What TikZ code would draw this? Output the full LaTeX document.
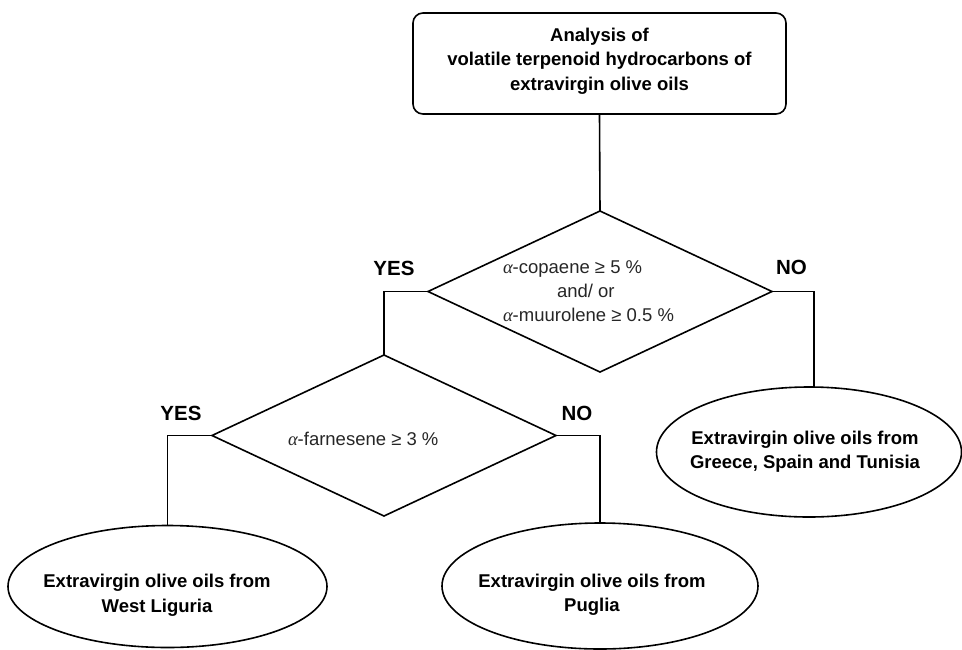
\documentclass[tikz,border=0pt]{standalone}
\usepackage{fontspec}
\setmainfont{Liberation Sans}
\newfontfamily\tmsfont{Liberation Serif}
\usetikzlibrary{shapes.geometric}
\newcommand{\alp}{{\tmsfont\itshape α}}
\begin{document}
\begin{tikzpicture}[x=1pt,y=-1pt,
  every node/.style={inner sep=0pt, outer sep=0pt},
  line/.style={draw=black, line width=1.6pt},
  boxtext/.style={font=\fontsize{18.5}{24.5}\selectfont\bfseries, align=center},
  condtext/.style={font=\fontsize{18.5}{24}\selectfont, align=left, anchor=west, text=black!85},
  ynlabel/.style={font=\fontsize{20.5}{24}\selectfont\bfseries},
  decision/.style={diamond, draw=black, line width=1.6pt, minimum width=344pt, minimum height=161pt},
  outcome/.style={ellipse, draw=black, line width=1.6pt}]
\useasboundingbox (0,0) rectangle (962,649);
% start box
\node[draw=black, line width=1.6pt, rounded corners=10pt, minimum width=373pt, minimum height=101pt] (start) at (599.5,63.5) {};
\node[boxtext] (starttxt) at (599.5,61) {Analysis of\\volatile terpenoid hydrocarbons of\\extravirgin olive oils};
% decisions
\node[decision] (d1) at (600,291.5) {};
\node[condtext] (d1txt) at (503,291) {\alp-copaene ≥ 5 \%\\\hspace*{54pt}and/ or\\\alp-muurolene ≥ 0.5 \%};
\node[decision] (d2) at (384,435.5) {};
\node[condtext] (d2txt) at (288,439) {\alp-farnesene ≥ 3 \%};
% outcomes
\node[outcome, minimum width=305pt, minimum height=130pt] (greece) at (809,452) {};
\node[boxtext] (greecetxt) at (805,451.5) {Extravirgin olive oils from\\Greece, Spain and Tunisia};
\node[outcome, minimum width=319pt, minimum height=122pt] (liguria) at (167.5,586.5) {};
\node[boxtext] (liguriatxt) at (157,595) {Extravirgin olive oils from\\West Liguria};
\node[outcome, minimum width=316pt, minimum height=126pt] (puglia) at (600,586) {};
\node[boxtext] (pugliatxt) at (592,594.5) {Extravirgin olive oils from\\Puglia};
% labels
\node[ynlabel] (yes1) at (394,268) {YES};
\node[ynlabel] (no1) at (791.5,267) {NO};
\node[ynlabel] (yes2) at (181,413) {YES};
\node[ynlabel] (no2) at (577,413) {NO};
% connectors
\coordinate (y1) at (384,291.5);
\coordinate (n1) at (814,291.5);
\draw[line] (start.south) -- (d1.north);
\draw[line] (d1.west) -- (y1) -- (d2.north);
\draw[line] (d1.east) -- (n1) -- (n1 |- greece.north);
\draw[line] (d2.west) -| (liguria.north);
\draw[line] (d2.east) -| (puglia.north);
\end{tikzpicture}
\end{document}
